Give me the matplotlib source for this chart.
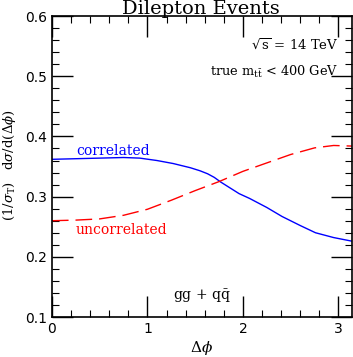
import matplotlib
matplotlib.use("Agg")
import matplotlib.pyplot as plt
import numpy as np
from matplotlib.ticker import MultipleLocator, FuncFormatter

plt.rcParams["mathtext.fontset"] = "dejavuserif"

# values
phi_corr = [0.0, 0.25, 0.5, 0.75, 0.92, 1.1, 1.27, 1.45, 1.55, 1.63, 1.7, 1.77, 1.96, 2.07,
            2.25, 2.41, 2.6, 2.76, 2.95, 3.1416]
corr = [0.362, 0.363, 0.364, 0.365, 0.364, 0.360, 0.355, 0.348, 0.343, 0.338, 0.332, 0.324,
        0.305, 0.297, 0.282, 0.267, 0.252, 0.240, 0.232, 0.226]

phi_unc = [0.0, 0.25, 0.5, 0.75, 1.0, 1.25, 1.5, 1.75, 2.0, 2.25, 2.5, 2.75, 2.95, 3.1416]
unc = [0.260, 0.261, 0.263, 0.269, 0.279, 0.294, 0.310, 0.325, 0.342, 0.356, 0.370, 0.381,
       0.385, 0.384]

fig = plt.figure(figsize=(3.53, 3.57), dpi=100)
ax = fig.add_axes([0.147, 0.112, 0.850, 0.843])

ax.plot(phi_corr, corr, color="#0000ff", lw=1.0)
ax.plot(phi_unc, unc, color="#ff0000", lw=1.0, dashes=(12, 5))

ax.set_xlim(0, np.pi)
ax.set_ylim(0.1, 0.6)
ax.xaxis.set_major_locator(MultipleLocator(1))
ax.xaxis.set_minor_locator(MultipleLocator(0.2))
ax.yaxis.set_major_locator(MultipleLocator(0.1))
ax.yaxis.set_minor_locator(MultipleLocator(0.02))
ax.tick_params(which="both", direction="in", top=True, right=True, labelsize=10)
ax.tick_params(which="major", length=15, width=1)
ax.tick_params(which="minor", length=5, width=0.8)
ax.yaxis.set_major_formatter(FuncFormatter(lambda v, p: f"{v:.1f}"))
ax.xaxis.set_major_formatter(FuncFormatter(lambda v, p: f"{v:.0f}"))
for s in ax.spines.values():
    s.set_linewidth(1.2)

serif = "DejaVu Serif"
fig.text(0.57, 0.962, "Dilepton Events", family=serif, fontsize=14, ha="center", va="baseline")
ax.set_xlabel(r"$\Delta\phi$", fontsize=11, labelpad=2)
fig.text(0.028, 0.538, r"(1/$\sigma_{\rm T}$)   d$\sigma$/d($\Delta\phi$)", family=serif,
         fontsize=9.5, rotation=90, ha="center", va="center")

ax.text(0.25, 0.376, "correlated", color="#0000ff", family=serif, fontsize=10, va="center")
ax.text(0.25, 0.244, "uncorrelated", color="#ff0000", family=serif, fontsize=10, va="center")
ax.text(3.0, 0.552, r"$\sqrt{\rm s}$ = 14 TeV", ha="right", va="center", family=serif, fontsize=9.5)
ax.text(3.0, 0.507, r"true m$_{\rm t\bar{t}}$ < 400 GeV", ha="right", va="center", family=serif, fontsize=9.3)
ax.text(1.57, 0.134, r"gg + q$\bar{\rm q}$", ha="center", va="center", family=serif, fontsize=10)

fig.savefig("out.png", dpi=100)
